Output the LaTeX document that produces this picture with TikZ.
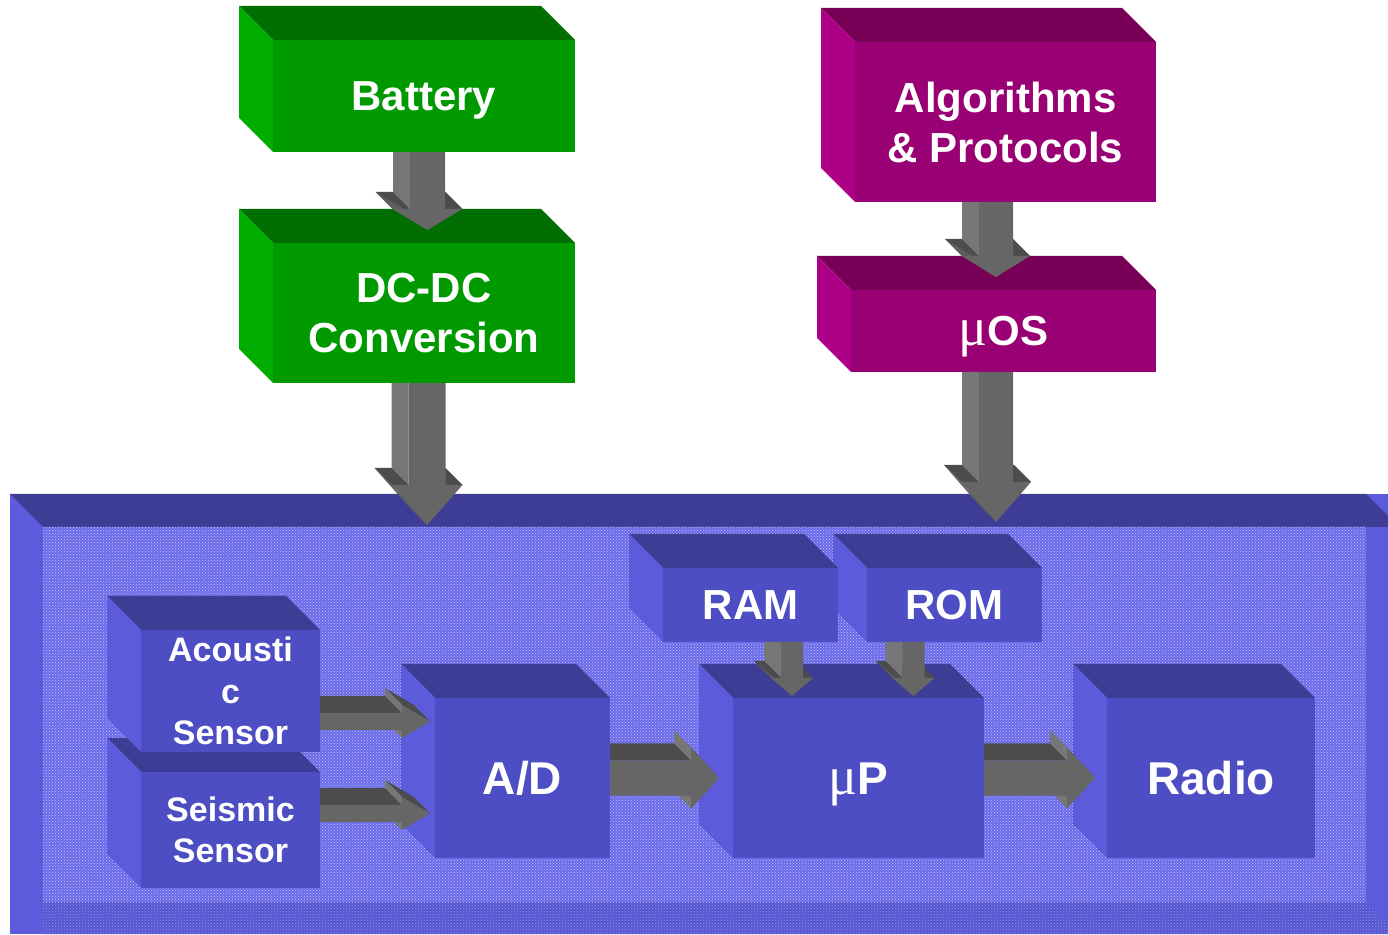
\documentclass[tikz,border=0pt]{standalone}
\usepackage{fontspec}
\setmainfont{Liberation Sans}
\newfontfamily\greekserif{Liberation Serif}
\usetikzlibrary{calc,patterns}

\definecolor{grnfront}{HTML}{009A00}
\definecolor{grntop}{HTML}{006E00}
\definecolor{grnleft}{HTML}{00AC00}
\definecolor{magfront}{HTML}{990073}
\definecolor{magtop}{HTML}{780056}
\definecolor{magleft}{HTML}{AE0086}
\definecolor{blufront}{HTML}{4D4DC4}
\definecolor{blutop}{HTML}{3D3D96}
\definecolor{bluleft}{HTML}{5B5BDC}
\definecolor{boardbase}{HTML}{6A6AE8}
\definecolor{boardlow}{HTML}{5656D2}
\definecolor{boarddot}{HTML}{C4C4FA}
\definecolor{arrfront}{HTML}{666666}
\definecolor{arrlight}{HTML}{777777}
\definecolor{arrdark}{HTML}{4C4C4C}
\definecolor{arrside}{HTML}{5E5E5E}

\newcommand\mug{{\greekserif\mdseries\fontsize{54}{54}\selectfont μ}}

\tikzset{
  face/.style={rectangle, inner sep=0pt, outer sep=0pt, text=white, align=center,
    font=\bfseries\fontsize{42}{50}\selectfont},
  greenface/.style={face, fill=grnfront},
  magface/.style={face, fill=magfront},
  blueface/.style={face, fill=blufront},
  oneline/.style={text height=#1, text depth=0pt},
  oneline/.default=30pt,
  sensor text/.style={font=\bfseries\fontsize{34}{41.5}\selectfont},
  big text/.style={font=\bfseries\fontsize{46}{52}\selectfont, oneline=33pt},
  speckle/.style={postaction={pattern=crosshatch dots, pattern color=#1}},
}

% top and left faces of a block
\newcommand\boxsides[3]{%
  \fill[#2] (#1.north west) -- ++(-34,34) -- ($(#1.north east)+(-34,34)$) -- (#1.north east) -- cycle;
  \fill[#3] (#1.north west) -- ++(-34,34) -- ($(#1.south west)+(-34,34)$) -- (#1.south west) -- cycle;}

% block arrow pointing down: from, to, shaft half width, head half width, head length
\newcommand\vconn[5]{%
  \path let \p1=(#1), \p2=(#2) in
    coordinate (t) at (\x1,\y1) coordinate (p) at (\x1,\y2) coordinate (k) at (\x1,{\y2+#5pt});
  \fill[arrlight] ($(t)+(-#3-17,0)$) -- ($(t)+(-#3,0)$) -- ($(k)+(-#3,0)$) -- ($(k)+(-#3-17,17)$) -- cycle;
  \fill[arrdark] ($(k)+(-#4,0)$) -- ($(k)+(-#3,0)$) -- ($(k)+(-#3-17,17)$) -- ($(k)+(-#4-17,17)$) -- cycle;
  \fill[arrdark] ($(k)+(#3,0)$) -- ($(k)+(#4,0)$) -- ($(k)+(#4-17,17)$) -- ($(k)+(#3-17,17)$) -- cycle;
  \fill[arrside] ($(k)+(-#4,0)$) -- (p) -- ($(p)+(-17,17)$) -- ($(k)+(-#4-17,17)$) -- cycle;
  \fill[arrfront] ($(t)+(-#3,0)$) -- ($(t)+(#3,0)$) -- ($(k)+(#3,0)$) -- ($(k)+(#4,0)$) -- (p)
    -- ($(k)+(-#4,0)$) -- ($(k)+(-#3,0)$) -- cycle;}

% block arrow pointing right
\newcommand\hconn[5]{%
  \path let \p1=(#1), \p2=(#2) in
    coordinate (t) at (\x1,\y1) coordinate (p) at (\x2,\y1) coordinate (k) at ({\x2-#5pt},\y1);
  \fill[arrdark] ($(t)+(0,#3)$) -- ($(k)+(0,#3)$) -- ($(k)+(-17,#3+17)$) -- ($(t)+(0,#3+17)$) -- cycle;
  \fill[arrdark] ($(k)+(0,#4)$) -- (p) -- ($(p)+(-17,17)$) -- ($(k)+(-17,#4+17)$) -- cycle;
  \fill[arrlight] ($(k)+(0,#3)$) -- ($(k)+(0,#4)$) -- ($(k)+(-17,#4+17)$) -- ($(k)+(-17,#3+17)$) -- cycle;
  \fill[arrlight] ($(k)+(0,-#4)$) -- ($(k)+(0,-#3)$) -- ($(k)+(-17,-#3+17)$) -- ($(k)+(-17,-#4+17)$) -- cycle;
  \fill[arrfront] ($(t)+(0,#3)$) -- ($(k)+(0,#3)$) -- ($(k)+(0,#4)$) -- (p) -- ($(k)+(0,-#4)$)
    -- ($(k)+(0,-#3)$) -- ($(t)+(0,-#3)$) -- cycle;}

\begin{document}
\begin{tikzpicture}[x=1pt,y=1pt]
  \useasboundingbox (0,0) rectangle (1388,934);
  % the board
  \fill[bluleft] (10,0) rectangle (1388,440);
  \fill[blutop] (10,440) -- (1366,440) -- (1388,418) -- (1388,407) -- (43,407) -- cycle;
  \fill[boardlow, speckle=boarddot!55!boardlow] (43,0) -- (43,32) -- (1366,32) -- (1388,10) -- (1388,0) -- cycle;
  \node[face, fill=boardbase, speckle=boarddot, minimum width=1323pt, minimum height=375pt] (board) at (704.5,219.5) {};

  \node[blueface, sensor text, minimum width=179pt, minimum height=116pt] (seis) at (230.5,104) {Seismic\\Sensor};
  \boxsides{seis}{blutop}{bluleft}
  \node[blueface, sensor text, minimum width=179pt, minimum height=122pt] (acou) at (230.5,243) {Acousti\\c\\Sensor};
  \boxsides{acou}{blutop}{bluleft}
  \node[blueface, big text, minimum width=175pt, minimum height=160pt] (ad) at (522.5,156) {A/D};
  \boxsides{ad}{blutop}{bluleft}
  \node[blueface, oneline, minimum width=175pt, minimum height=74pt] (rom) at (954.5,329) {ROM};
  \boxsides{rom}{blutop}{bluleft}
  \node[blueface, oneline, minimum width=175pt, minimum height=74pt] (ram) at (750.5,329) {RAM};
  \boxsides{ram}{blutop}{bluleft}
  \node[blueface, big text, minimum width=251pt, minimum height=160pt] (mup) at (858.5,156) {\mug P};
  \boxsides{mup}{blutop}{bluleft}
  \node[blueface, big text, minimum width=208pt, minimum height=160pt] (radio) at (1211,156) {Radio};
  \boxsides{radio}{blutop}{bluleft}

  \node[greenface, oneline, minimum width=302pt, minimum height=112pt] (bat) at (424,838) {Battery};
  \boxsides{bat}{grntop}{grnleft}
  \node[greenface, minimum width=302pt, minimum height=140pt] (dcdc) at (424,621) {DC-DC\\Conversion};
  \boxsides{dcdc}{grntop}{grnleft}
  \node[magface, minimum width=301pt, minimum height=160pt] (algo) at (1005.5,812) {Algorithms\\\& Protocols};
  \boxsides{algo}{magtop}{magleft}
  \node[magface, oneline, minimum width=305pt, minimum height=82pt] (mos) at (1003.5,603) {\mug OS};
  \boxsides{mos}{magtop}{magleft}

  \vconn{[xshift=3.5pt]bat.south}{[yshift=13pt]dcdc.north}{17.5}{35}{21}
  \vconn{[xshift=3pt]dcdc.south}{[yshift=2pt]board.north}{18.5}{35.5}{40}
  \vconn{[xshift=-9.5pt]algo.south}{[yshift=13pt]mos.north}{17}{34}{21}
  \vconn{[xshift=-7.5pt]mos.south}{[yshift=5pt]board.north}{17}{35}{40}
  \vconn{[xshift=41.5pt]ram.south}{[yshift=2pt]mup.north}{11}{21}{18}
  \vconn{[xshift=-41pt]rom.south}{[yshift=2pt]mup.north}{11}{21}{18}
  \hconn{[yshift=-30.5pt]acou.east}{[xshift=-5pt]ad.west}{8.5}{16.5}{28}
  \hconn{[yshift=16.5pt]seis.east}{[xshift=-5pt]ad.west}{8.5}{16.5}{28}
  \hconn{ad.east}{[xshift=-14pt]mup.west}{17.5}{30.5}{28}
  \hconn{mup.east}{[xshift=-12pt]radio.west}{17.5}{30.5}{28}
\end{tikzpicture}
\end{document}
